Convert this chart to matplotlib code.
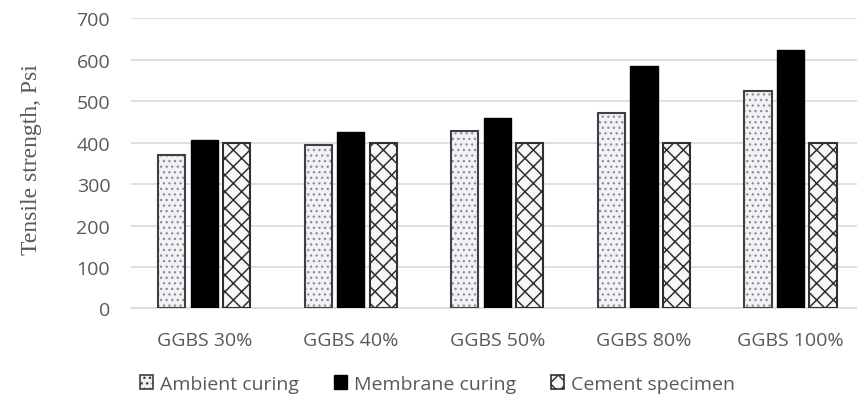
import numpy as np
import matplotlib
matplotlib.use("Agg")
from matplotlib import pyplot as plt
from matplotlib.patches import Patch

# donnees
categories = ["GGBS 30%", "GGBS 40%", "GGBS 50%", "GGBS 80%", "GGBS 100%"]
ambient = [370, 394, 427, 471, 523]
membrane = [405, 425, 458, 584, 622]
cement = [400, 400, 400, 400, 400]
series_names = ["Ambient curing", "Membrane curing", "Cement specimen"]

grey = "#595959"
font = "Open Sans"

fig = plt.figure(figsize=(8.57, 4.02), dpi=100)
ax = fig.add_axes([0.1529, 0.2301, 0.855, 0.7226])

x = np.arange(len(categories))
w = 0.185
step = 0.222

# barres "ambient" : points gris + contour fonce (deux couches)
with plt.rc_context({"hatch.linewidth": 0.9}):
    ax.bar(x - step, ambient, w, color="#f0f2f8", edgecolor="#8c8c8c", hatch="...",
           linewidth=0, zorder=3)
ax.bar(x - step, ambient, w, fill=False, edgecolor="#404040", linewidth=1.5, zorder=4)

ax.bar(x, membrane, w, color="black", edgecolor="black", linewidth=1.0, zorder=3)

with plt.rc_context({"hatch.linewidth": 1.1}):
    ax.bar(x + step, cement, w, color="#f7f7f7", edgecolor="#303030", hatch="xx",
           linewidth=1.5, zorder=3)

ax.set_ylim(0, 700)
ax.set_xlim(-0.5, 4.5)
ax.set_yticks(range(0, 701, 100))
ax.set_xticks(x)
ax.set_xticklabels(categories)
ax.yaxis.grid(True, color="#d9d9d9", linewidth=1.2, zorder=0)
ax.tick_params(length=0, labelsize=14, colors=grey)
for lab in ax.get_xticklabels() + ax.get_yticklabels():
    lab.set_family(font)
ax.tick_params(axis="y", pad=15)
ax.tick_params(axis="x", pad=16)
for s in ["top", "right", "left"]:
    ax.spines[s].set_visible(False)
ax.spines["bottom"].set_color("#d9d9d9")
ax.spines["bottom"].set_linewidth(1.2)

ax.set_ylabel("Tensile strength, Psi", family="Liberation Serif", fontsize=17,
              color=grey)
ax.yaxis.set_label_coords(-0.121, 0.515)

# legende
with plt.rc_context({"hatch.linewidth": 0.9}):
    h1 = Patch(facecolor="#f0f2f8", edgecolor="#404040", hatch="...", linewidth=1.2,
               label=series_names[0])
h2 = Patch(facecolor="black", edgecolor="black", label=series_names[1])
with plt.rc_context({"hatch.linewidth": 1.1}):
    h3 = Patch(facecolor="#f7f7f7", edgecolor="#303030", hatch="xx", linewidth=1.2,
               label=series_names[2])
leg = fig.legend(handles=[h1, h2, h3], loc="center", bbox_to_anchor=(0.511, 0.043),
                 ncol=3, frameon=False, handlelength=0.67, handleheight=0.67,
                 handletextpad=0.36, columnspacing=1.8,
                 prop={"family": font, "size": 14})
for t in leg.get_texts():
    t.set_color(grey)

fig.savefig("out.png", dpi=100)
